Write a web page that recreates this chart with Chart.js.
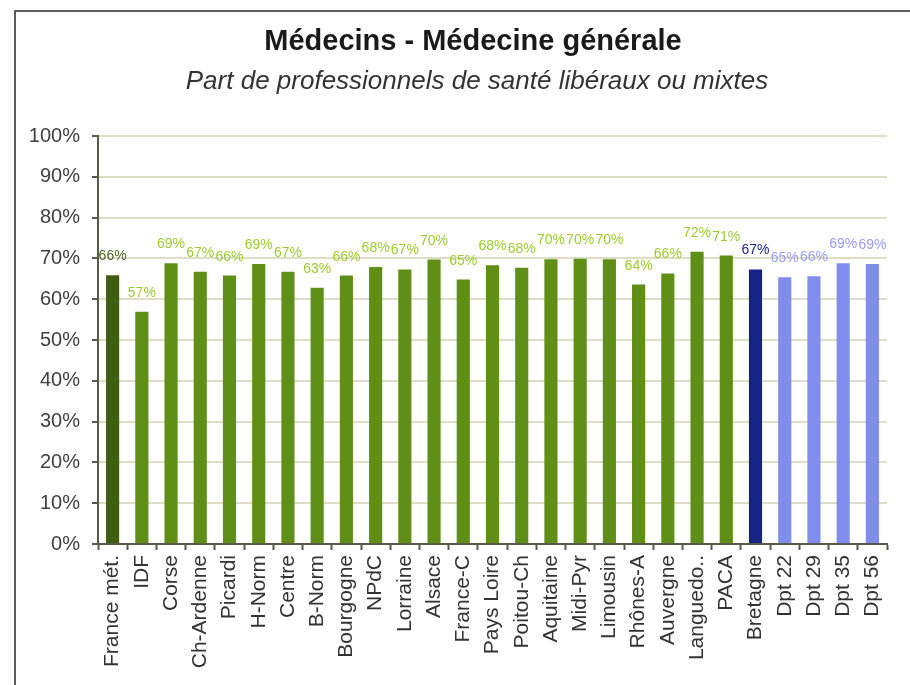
<!DOCTYPE html>
<html>
<head>
<meta charset="utf-8">
<script src="https://cdn.jsdelivr.net/npm/chart.js@4/dist/chart.umd.min.js"></script>
<style>
    html, body { margin: 0; padding: 0; background: #fff; }
    #wrap { position: relative; width: 910px; height: 685px; overflow: hidden; }
    #frame {
        position: absolute; left: 14px; top: 10px; width: 910px; height: 700px;
        border: 2px solid #5c5c5c; box-sizing: border-box;
    }
    canvas { position: absolute; left: 0; top: 0; }
</style>
</head>
<body>
<div id="wrap">
    <div id="frame"></div>
    <canvas id="chart" width="910" height="685"></canvas>
</div>
<script>
// Chart data
const categories = ['France mét.', 'IDF', 'Corse', 'Ch-Ardenne', 'Picardi', 'H-Norm', 'Centre', 'B-Norm',
    'Bourgogne', 'NPdC', 'Lorraine', 'Alsace', 'France-C', 'Pays Loire', 'Poitou-Ch', 'Aquitaine',
    'Midi-Pyr', 'Limousin', 'Rhônes-A', 'Auvergne', 'Languedo..', 'PACA', 'Bretagne',
    'Dpt 22', 'Dpt 29', 'Dpt 35', 'Dpt 56'];
const values = [65.9, 56.9, 68.8, 66.7, 65.8, 68.6, 66.7, 62.8,
    65.8, 67.9, 67.3, 69.7, 64.8, 68.3, 67.7, 69.8,
    69.9, 69.8, 63.6, 66.3, 71.6, 70.7, 67.3,
    65.4, 65.6, 68.8, 68.6];
const yTicks = [0, 10, 20, 30, 40, 50, 60, 70, 80, 90, 100];

const titleText = 'Médecins - Médecine générale';
const subtitleText = 'Part de professionnels de santé libéraux ou mixtes';

const FONT = '"Liberation Sans", Arial, sans-serif';

// bar colour by position: France, regions, Bretagne, departments
function barColor(i) {
    if (i === 0) return '#3f5e10';
    if (i === 22) return '#142384';
    if (i > 22) return '#7f8eec';
    return '#5f8f17';
}
function labelColor(i) {
    if (i === 0) return '#4b6428';
    if (i === 22) return '#1c2a8a';
    if (i > 22) return '#9a9cf4';
    return '#9ccc2e';
}

// Titles drawn on top
const titlePlugin = {
    id: 'titles',
    afterDraw(chart) {
        const ctx = chart.ctx;
        ctx.save();
        ctx.textAlign = 'center';
        ctx.textBaseline = 'alphabetic';
        ctx.fillStyle = '#1a1a1a';
        ctx.font = 'bold 29px ' + FONT;
        ctx.fillText(titleText, 473, 50);
        ctx.fillStyle = '#333';
        ctx.font = 'italic 26px ' + FONT;
        ctx.fillText(subtitleText, 477, 89);
        ctx.restore();
    }
};

// Value labels above bars
const valueLabels = {
    id: 'valueLabels',
    afterDatasetsDraw(chart) {
        const ctx = chart.ctx;
        const meta = chart.getDatasetMeta(0);
        ctx.save();
        ctx.font = '14px ' + FONT;
        ctx.textAlign = 'center';
        ctx.textBaseline = 'alphabetic';
        meta.data.forEach((bar, i) => {
            ctx.fillStyle = labelColor(i);
            ctx.fillText(Math.round(values[i]) + '%', bar.x, bar.y - 15);
        });
        ctx.restore();
    }
};

new Chart(document.getElementById('chart'), {
    type: 'bar',
    data: {
        labels: categories,
        datasets: [{
            data: values,
            backgroundColor: (c) => barColor(c.dataIndex),
            borderWidth: 0,
            categoryPercentage: 1,
            barPercentage: 0.45
        }]
    },
    options: {
        responsive: false,
        animation: false,
        events: [],
        layout: { padding: { left: 16, right: 23, top: 136, bottom: 0 } },
        plugins: {
            legend: { display: false },
            title: { display: false },
            tooltip: { enabled: false }
        },
        scales: {
            x: {
                grid: {
                    offset: true,
                    drawOnChartArea: false,
                    tickLength: 6,
                    tickColor: '#5a5a4a',
                    tickWidth: 2
                },
                border: { color: '#5a5a4a', width: 2 },
                ticks: {
                    minRotation: 90,
                    maxRotation: 90,
                    autoSkip: false,
                    padding: 5,
                    color: '#333',
                    font: { family: FONT, size: 21 }
                },
                afterFit(scale) { scale.height = 141; }
            },
            y: {
                min: 0,
                max: 100,
                afterBuildTicks(scale) { scale.ticks = yTicks.map(v => ({ value: v })); },
                grid: {
                    color: '#e0dcc6',
                    lineWidth: 2,
                    tickLength: 6,
                    tickColor: '#5a5a4a',
                    tickWidth: 2
                },
                border: { color: '#5a5a4a', width: 2 },
                ticks: {
                    padding: 12,
                    color: '#404040',
                    font: { family: FONT, size: 20 },
                    callback: (v) => v + '%'
                },
                afterFit(scale) { scale.width = 82; }
            }
        }
    },
    plugins: [titlePlugin, valueLabels]
});
</script>
</body>
</html>
